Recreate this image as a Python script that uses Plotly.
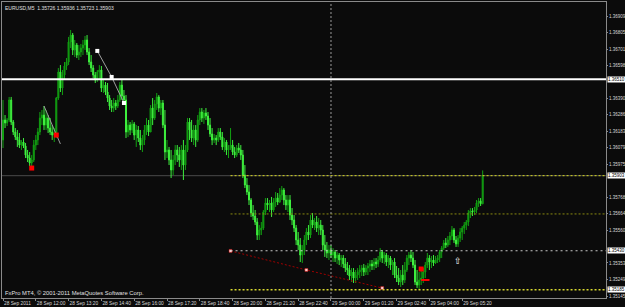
import pandas as pd
import plotly.graph_objects as go

# ---------------- data (EURUSD M5) ----------------
symbol_header = "EURUSD,M5  1.35726 1.35936 1.35723 1.35903"
copyright_text = "FxPro MT4, © 2001-2011 MetaQuotes Software Corp."
first_bar = "2011-09-28 10:40"
bar_minutes = 5

open_ = [1.36128, 1.36254, 1.36235, 1.36254, 1.36380, 1.36241, 1.36178, 1.36147, 1.36128, 1.36096,
         1.36115, 1.36090, 1.36033, 1.36014, 1.35983, 1.36002, 1.36096, 1.36128, 1.36178, 1.36266,
         1.36285, 1.36222, 1.36266, 1.36203, 1.36178, 1.36159, 1.36172, 1.36392, 1.36556, 1.36455,
         1.36537, 1.36594, 1.36619, 1.36745, 1.36789, 1.36695, 1.36726, 1.36663, 1.36682, 1.36707,
         1.36726, 1.36758, 1.36682, 1.36619, 1.36581, 1.36537, 1.36506, 1.36556, 1.36569, 1.36455,
         1.36474, 1.36430, 1.36392, 1.36342, 1.36329, 1.36361, 1.36342, 1.36380, 1.36474, 1.36405,
         1.36380, 1.36178, 1.36222, 1.36191, 1.36229, 1.36159, 1.36191, 1.36140, 1.36096, 1.36128,
         1.36191, 1.36222, 1.36178, 1.36329, 1.36266, 1.36355, 1.36399, 1.36329, 1.36361, 1.36222,
         1.36052, 1.36065, 1.36002, 1.35939, 1.36002, 1.36065, 1.36033, 1.36002, 1.36065, 1.35970,
         1.36065, 1.36241, 1.36191, 1.36140, 1.36191, 1.36128, 1.36254, 1.36304, 1.36266, 1.36298,
         1.36279, 1.36222, 1.36166, 1.36128, 1.36140, 1.36128, 1.36178, 1.36147, 1.36084, 1.36115,
         1.36065, 1.36077, 1.36096, 1.36052, 1.36033, 1.36077, 1.36065, 1.36033, 1.35907, 1.35844,
         1.35800, 1.35750, 1.35668, 1.35649, 1.35611, 1.35529, 1.35561, 1.35573, 1.35674, 1.35731,
         1.35718, 1.35731, 1.35687, 1.35737, 1.35762, 1.35737, 1.35781, 1.35813, 1.35750, 1.35718,
         1.35750, 1.35655, 1.35624, 1.35573, 1.35498, 1.35466, 1.35403, 1.35435, 1.35498, 1.35548,
         1.35529, 1.35624, 1.35592, 1.35611, 1.35573, 1.35592, 1.35561, 1.35466, 1.35435, 1.35416,
         1.35435, 1.35403, 1.35422, 1.35384, 1.35403, 1.35372, 1.35384, 1.35347, 1.35321, 1.35309,
         1.35271, 1.35296, 1.35258, 1.35277, 1.35296, 1.35309, 1.35321, 1.35296, 1.35321, 1.35334,
         1.35347, 1.35334, 1.35359, 1.35347, 1.35372, 1.35422, 1.35384, 1.35403, 1.35359, 1.35384,
         1.35340, 1.35359, 1.35277, 1.35258, 1.35233, 1.35277, 1.35246, 1.35309, 1.35384, 1.35403,
         1.35384, 1.35340, 1.35233, 1.35214, 1.35246, 1.35258, 1.35296, 1.35340, 1.35384, 1.35359,
         1.35372, 1.35353, 1.35372, 1.35384, 1.35422, 1.35447, 1.35479, 1.35466, 1.35498, 1.35523,
         1.35561, 1.35498, 1.35473, 1.35510, 1.35548, 1.35573, 1.35592, 1.35611, 1.35668, 1.35681,
         1.35674, 1.35687, 1.35731, 1.35744, 1.35726]

high = [1.36380, 1.36285, 1.36266, 1.36399, 1.36399, 1.36254, 1.36203, 1.36191, 1.36172, 1.36128,
        1.36140, 1.36109, 1.36065, 1.36052, 1.36033, 1.36128, 1.36159, 1.36203, 1.36304, 1.36317,
        1.36342, 1.36317, 1.36285, 1.36266, 1.36222, 1.36203, 1.36399, 1.36581, 1.36600, 1.36569,
        1.36619, 1.36644, 1.36777, 1.36821, 1.36802, 1.36758, 1.36739, 1.36726, 1.36733, 1.36758,
        1.36783, 1.36789, 1.36707, 1.36663, 1.36600, 1.36556, 1.36569, 1.36600, 1.36594, 1.36506,
        1.36493, 1.36487, 1.36411, 1.36380, 1.36392, 1.36380, 1.36411, 1.36493, 1.36506, 1.36443,
        1.36411, 1.36254, 1.36241, 1.36254, 1.36241, 1.36222, 1.36216, 1.36191, 1.36159, 1.36222,
        1.36266, 1.36254, 1.36348, 1.36392, 1.36380, 1.36424, 1.36411, 1.36380, 1.36380, 1.36317,
        1.36128, 1.36084, 1.36065, 1.36033, 1.36096, 1.36096, 1.36084, 1.36096, 1.36128, 1.36096,
        1.36266, 1.36266, 1.36254, 1.36222, 1.36222, 1.36285, 1.36329, 1.36329, 1.36317, 1.36329,
        1.36304, 1.36266, 1.36203, 1.36166, 1.36159, 1.36203, 1.36203, 1.36178, 1.36140, 1.36128,
        1.36096, 1.36203, 1.36128, 1.36084, 1.36096, 1.36109, 1.36096, 1.36065, 1.35970, 1.35888,
        1.35844, 1.35762, 1.35718, 1.35687, 1.35636, 1.35592, 1.35611, 1.35687, 1.35762, 1.35762,
        1.35750, 1.35769, 1.35762, 1.35800, 1.35794, 1.35825, 1.35838, 1.35825, 1.35781, 1.35781,
        1.35781, 1.35699, 1.35655, 1.35592, 1.35548, 1.35510, 1.35466, 1.35529, 1.35573, 1.35592,
        1.35655, 1.35668, 1.35636, 1.35649, 1.35636, 1.35624, 1.35592, 1.35529, 1.35485, 1.35466,
        1.35466, 1.35447, 1.35435, 1.35422, 1.35416, 1.35403, 1.35403, 1.35384, 1.35359, 1.35340,
        1.35321, 1.35321, 1.35309, 1.35321, 1.35340, 1.35340, 1.35347, 1.35340, 1.35353, 1.35372,
        1.35372, 1.35384, 1.35384, 1.35397, 1.35447, 1.35435, 1.35422, 1.35416, 1.35403, 1.35397,
        1.35372, 1.35384, 1.35334, 1.35321, 1.35309, 1.35340, 1.35359, 1.35403, 1.35422, 1.35435,
        1.35422, 1.35372, 1.35309, 1.35296, 1.35321, 1.35321, 1.35359, 1.35416, 1.35403, 1.35397,
        1.35403, 1.35397, 1.35403, 1.35435, 1.35460, 1.35498, 1.35510, 1.35523, 1.35548, 1.35586,
        1.35573, 1.35523, 1.35529, 1.35573, 1.35586, 1.35611, 1.35624, 1.35687, 1.35699, 1.35699,
        1.35706, 1.35750, 1.35762, 1.35762, 1.35936]

low = [1.36077, 1.36203, 1.36216, 1.36241, 1.36222, 1.36159, 1.36128, 1.36084, 1.36077, 1.36065,
       1.36077, 1.36014, 1.35989, 1.35964, 1.35951, 1.35989, 1.36065, 1.36096, 1.36159, 1.36222,
       1.36191, 1.36191, 1.36172, 1.36159, 1.36128, 1.36115, 1.36140, 1.36380, 1.36430, 1.36411,
       1.36506, 1.36569, 1.36600, 1.36707, 1.36663, 1.36651, 1.36644, 1.36632, 1.36651, 1.36663,
       1.36695, 1.36663, 1.36600, 1.36556, 1.36518, 1.36487, 1.36493, 1.36506, 1.36430, 1.36424,
       1.36411, 1.36367, 1.36317, 1.36304, 1.36304, 1.36317, 1.36329, 1.36367, 1.36380, 1.36348,
       1.36140, 1.36147, 1.36159, 1.36172, 1.36128, 1.36084, 1.36115, 1.36065, 1.36052, 1.36096,
       1.36159, 1.36153, 1.36178, 1.36222, 1.36254, 1.36317, 1.36304, 1.36285, 1.36203, 1.36002,
       1.36014, 1.35970, 1.35888, 1.35907, 1.35970, 1.35989, 1.35958, 1.35939, 1.35876, 1.35939,
       1.36052, 1.36128, 1.36115, 1.36096, 1.36084, 1.36115, 1.36222, 1.36241, 1.36229, 1.36254,
       1.36191, 1.36147, 1.36096, 1.36109, 1.36096, 1.36115, 1.36128, 1.36065, 1.36052, 1.36033,
       1.36014, 1.36065, 1.36033, 1.36014, 1.36021, 1.36046, 1.36002, 1.35888, 1.35825, 1.35781,
       1.35718, 1.35643, 1.35624, 1.35592, 1.35498, 1.35498, 1.35529, 1.35561, 1.35655, 1.35687,
       1.35674, 1.35643, 1.35674, 1.35706, 1.35718, 1.35731, 1.35750, 1.35718, 1.35687, 1.35674,
       1.35624, 1.35592, 1.35548, 1.35466, 1.35435, 1.35359, 1.35353, 1.35403, 1.35466, 1.35498,
       1.35510, 1.35573, 1.35561, 1.35548, 1.35529, 1.35529, 1.35435, 1.35391, 1.35384, 1.35372,
       1.35384, 1.35359, 1.35359, 1.35347, 1.35340, 1.35328, 1.35321, 1.35296, 1.35277, 1.35246,
       1.35233, 1.35227, 1.35227, 1.35246, 1.35258, 1.35271, 1.35271, 1.35277, 1.35277, 1.35296,
       1.35309, 1.35309, 1.35321, 1.35328, 1.35359, 1.35353, 1.35347, 1.35334, 1.35321, 1.35309,
       1.35277, 1.35258, 1.35233, 1.35214, 1.35202, 1.35214, 1.35227, 1.35296, 1.35340, 1.35359,
       1.35321, 1.35214, 1.35195, 1.35183, 1.35214, 1.35227, 1.35258, 1.35321, 1.35309, 1.35321,
       1.35334, 1.35347, 1.35353, 1.35359, 1.35384, 1.35435, 1.35447, 1.35454, 1.35466, 1.35498,
       1.35479, 1.35454, 1.35454, 1.35485, 1.35498, 1.35536, 1.35561, 1.35586, 1.35636, 1.35649,
       1.35655, 1.35668, 1.35706, 1.35712, 1.35723]

close = [1.36254, 1.36235, 1.36254, 1.36380, 1.36241, 1.36178, 1.36147, 1.36128, 1.36096, 1.36115,
         1.36090, 1.36033, 1.36014, 1.35983, 1.36002, 1.36096, 1.36128, 1.36178, 1.36266, 1.36285,
         1.36222, 1.36266, 1.36203, 1.36178, 1.36159, 1.36172, 1.36392, 1.36556, 1.36455, 1.36537,
         1.36594, 1.36619, 1.36745, 1.36789, 1.36695, 1.36726, 1.36663, 1.36682, 1.36707, 1.36726,
         1.36758, 1.36682, 1.36619, 1.36581, 1.36537, 1.36506, 1.36556, 1.36569, 1.36455, 1.36474,
         1.36430, 1.36392, 1.36342, 1.36329, 1.36361, 1.36342, 1.36380, 1.36474, 1.36405, 1.36380,
         1.36178, 1.36222, 1.36191, 1.36229, 1.36159, 1.36191, 1.36140, 1.36096, 1.36128, 1.36191,
         1.36222, 1.36178, 1.36329, 1.36266, 1.36355, 1.36399, 1.36329, 1.36361, 1.36222, 1.36052,
         1.36065, 1.36002, 1.35939, 1.36002, 1.36065, 1.36033, 1.36002, 1.36065, 1.35970, 1.36065,
         1.36241, 1.36191, 1.36140, 1.36191, 1.36128, 1.36254, 1.36304, 1.36266, 1.36298, 1.36279,
         1.36222, 1.36166, 1.36128, 1.36140, 1.36128, 1.36178, 1.36147, 1.36084, 1.36115, 1.36065,
         1.36077, 1.36096, 1.36052, 1.36033, 1.36077, 1.36065, 1.36033, 1.35907, 1.35844, 1.35800,
         1.35750, 1.35668, 1.35649, 1.35611, 1.35529, 1.35561, 1.35573, 1.35674, 1.35731, 1.35718,
         1.35731, 1.35687, 1.35737, 1.35762, 1.35737, 1.35781, 1.35813, 1.35750, 1.35718, 1.35750,
         1.35655, 1.35624, 1.35573, 1.35498, 1.35466, 1.35403, 1.35435, 1.35498, 1.35548, 1.35529,
         1.35624, 1.35592, 1.35611, 1.35573, 1.35592, 1.35561, 1.35466, 1.35435, 1.35416, 1.35435,
         1.35403, 1.35422, 1.35384, 1.35403, 1.35372, 1.35384, 1.35347, 1.35321, 1.35309, 1.35271,
         1.35296, 1.35258, 1.35277, 1.35296, 1.35309, 1.35321, 1.35296, 1.35321, 1.35334, 1.35347,
         1.35334, 1.35359, 1.35347, 1.35372, 1.35422, 1.35384, 1.35403, 1.35359, 1.35384, 1.35340,
         1.35359, 1.35277, 1.35258, 1.35233, 1.35277, 1.35246, 1.35309, 1.35384, 1.35403, 1.35384,
         1.35340, 1.35233, 1.35214, 1.35246, 1.35258, 1.35296, 1.35340, 1.35384, 1.35359, 1.35372,
         1.35353, 1.35372, 1.35384, 1.35422, 1.35447, 1.35479, 1.35466, 1.35498, 1.35523, 1.35561,
         1.35498, 1.35473, 1.35510, 1.35548, 1.35573, 1.35592, 1.35611, 1.35668, 1.35681, 1.35674,
         1.35687, 1.35731, 1.35744, 1.35726, 1.35903]

# price axis labels (1.36494 sits under the 1.36510 level box in the original)
y_ticks = [1.35145, 1.35249, 1.35353, 1.35560, 1.35664, 1.35768, 1.35975,
           1.36079, 1.36183, 1.36286, 1.36390, 1.36598, 1.36701, 1.36805, 1.36909]
y_range = [1.351324, 1.369972]

# time axis labels
x_tick_times = ["2011-09-28 10:40", "2011-09-28 12:00", "2011-09-28 13:20", "2011-09-28 14:40",
                "2011-09-28 16:00", "2011-09-28 17:20", "2011-09-28 18:40", "2011-09-28 20:00",
                "2011-09-28 21:20", "2011-09-28 22:40", "2011-09-29 00:00", "2011-09-29 01:20",
                "2011-09-29 02:40", "2011-09-29 04:00", "2011-09-29 05:20"]
x_tick_labels = ["28 Sep 2011", "28 Sep 12:00", "28 Sep 13:20", "28 Sep 14:40", "28 Sep 16:00",
                 "28 Sep 17:20", "28 Sep 18:40", "28 Sep 20:00", "28 Sep 21:20", "28 Sep 22:40",
                 "29 Sep 00:00", "29 Sep 01:20", "29 Sep 02:40", "29 Sep 04:00", "29 Sep 05:20"]
x_range = ["2011-09-28 10:37:34", "2011-09-29 11:10:45"]

# chart objects
white_level = 1.36510          # solid white horizontal line
bid_price = 1.35903            # bid line / yellow level
levels_start = "2011-09-28 19:55"
olive_level = 1.35662
grey_level = 1.35430
yellow_low_level = 1.35185
day_separator = "2011-09-29 00:00"
box_levels = [1.36510, 1.35903, 1.35430, 1.35185]

trend1_t = ["2011-09-28 12:20", "2011-09-28 13:00"]
trend1_p = [1.36342, 1.36103]
trend2_t = ["2011-09-28 14:30", "2011-09-28 15:05", "2011-09-28 15:35"]
trend2_p = [1.36689, 1.36525, 1.36361]
trend3_t = ["2011-09-28 19:55", "2011-09-28 23:00", "2011-09-29 02:05"]
trend3_p = [1.35429, 1.35309, 1.35195]

red_box_t = ["2011-09-28 11:50", "2011-09-28 12:50", "2011-09-29 03:40"]
red_box_p = [1.35951, 1.36159, 1.35315]
red_dash_t = ["2011-09-29 03:50"]
red_dash_p = [1.35246]
arrow_t = "2011-09-29 05:10"
arrow_p = 1.35365

# ---------------- figure ----------------
times = pd.date_range(first_bar, periods=len(close), freq=f"{bar_minutes}min")

FONT = "Liberation Sans, Arial, sans-serif"
BG = "#0b0b0b"
FRAME = "#8a8a8a"
TXT = "#d8d8d8"

fig = go.Figure()
fig.add_trace(go.Candlestick(
    x=times, open=open_, high=high, low=low, close=close,
    increasing=dict(line=dict(color="#12a012", width=1), fillcolor="#0f8f0f"),
    decreasing=dict(line=dict(color="#3ef03e", width=1), fillcolor="#45ff45"),
    showlegend=False, hoverinfo="skip"))

fig.add_trace(go.Scatter(x=trend1_t, y=trend1_p, mode="lines",
                         line=dict(color="#9a9a9a", width=1), showlegend=False, hoverinfo="skip"))
fig.add_trace(go.Scatter(x=trend2_t, y=trend2_p, mode="lines+markers",
                         line=dict(color="#a0a0a0", width=1),
                         marker=dict(symbol="square", size=4, color="#ffffff"),
                         showlegend=False, hoverinfo="skip"))
fig.add_trace(go.Scatter(x=trend3_t, y=trend3_p, mode="lines+markers",
                         line=dict(color="#a00000", width=1, dash="2px,2px"),
                         marker=dict(symbol="square", size=3, color="#ffd0d0",
                                     line=dict(color="#c00000", width=0.5)),
                         showlegend=False, hoverinfo="skip"))
fig.add_trace(go.Scatter(x=red_box_t, y=red_box_p, mode="markers",
                         marker=dict(symbol="square", size=5, color="#ff0000"),
                         showlegend=False, hoverinfo="skip"))
fig.add_trace(go.Scatter(x=red_dash_t, y=red_dash_p, mode="markers",
                         marker=dict(symbol="line-ew-open", size=6, color="#ff0000",
                                     line=dict(color="#ff0000", width=2)),
                         showlegend=False, hoverinfo="skip"))

shapes = [
    dict(type="line", xref="paper", x0=0, x1=1, yref="y", y0=bid_price, y1=bid_price,
         line=dict(color="#4a4a4a", width=1), layer="below"),
    dict(type="line", xref="paper", x0=0, x1=1, yref="y", y0=white_level, y1=white_level,
         line=dict(color="#ffffff", width=2)),
    dict(type="line", xref="x", x0=levels_start, x1=x_range[1], yref="y", y0=bid_price, y1=bid_price,
         line=dict(color="#d8d820", width=1, dash="2px,2px")),
    dict(type="line", xref="x", x0=levels_start, x1=x_range[1], yref="y", y0=olive_level, y1=olive_level,
         line=dict(color="#8a8a10", width=1, dash="2px,2px")),
    dict(type="line", xref="x", x0=levels_start, x1=x_range[1], yref="y", y0=grey_level, y1=grey_level,
         line=dict(color="#c8c8c8", width=1, dash="2px,3px")),
    dict(type="line", xref="x", x0=levels_start, x1=x_range[1], yref="y", y0=yellow_low_level, y1=yellow_low_level,
         line=dict(color="#d8d830", width=1.5, dash="2px,2px")),
    dict(type="line", xref="x", x0=day_separator, x1=day_separator, yref="paper", y0=0, y1=1,
         line=dict(color="#9a9a9a", width=1, dash="2px,2px")),
]

annotations = [
    dict(xref="paper", yref="paper", x=0, y=1, xanchor="left", yanchor="top", xshift=1, yshift=-1,
         text=symbol_header, showarrow=False, font=dict(family=FONT, size=5, color="#e0e0e0")),
    dict(xref="paper", yref="paper", x=0, y=0, xanchor="left", yanchor="bottom", xshift=1, yshift=0,
         text=copyright_text, showarrow=False, font=dict(family=FONT, size=5.8, color="#e0e0e0")),
    dict(xref="x", yref="y", x=arrow_t, y=arrow_p, text="⇧", showarrow=False,
         font=dict(family="DejaVu Sans", size=9, color="#ffffff")),
]
for p in box_levels:
    annotations.append(dict(xref="paper", yref="y", x=1, y=p, xanchor="left", yanchor="middle",
                            xshift=1, text=f"{p:.5f}", showarrow=False, bgcolor="#ffffff",
                            borderpad=0, font=dict(family=FONT, size=4.5, color="#000000")))

fig.update_layout(
    width=625, height=307,
    margin=dict(l=2, r=19, t=2, b=9, autoexpand=False),
    paper_bgcolor=BG, plot_bgcolor=BG,
    shapes=shapes, annotations=annotations,
    showlegend=False,
    xaxis=dict(type="date", range=x_range, rangeslider=dict(visible=False), automargin=False,
               tickvals=x_tick_times, ticktext=x_tick_labels, tickangle=0,
               ticks="outside", ticklen=2, tickcolor=FRAME, ticklabelposition="outside right",
               tickfont=dict(family=FONT, size=4.8, color=TXT),
               showgrid=False, zeroline=False, showline=True, linecolor=FRAME, linewidth=1, mirror=True),
    yaxis=dict(side="right", range=y_range, tickvals=y_ticks, ticktext=[f"{v:.5f}" for v in y_ticks],
               automargin=False, ticks="outside", ticklen=1, tickcolor=FRAME,
               tickfont=dict(family=FONT, size=4.5, color=TXT),
               showgrid=False, zeroline=False, showline=True, linecolor=FRAME, linewidth=1, mirror=True),
)

fig.write_html("out.html")
